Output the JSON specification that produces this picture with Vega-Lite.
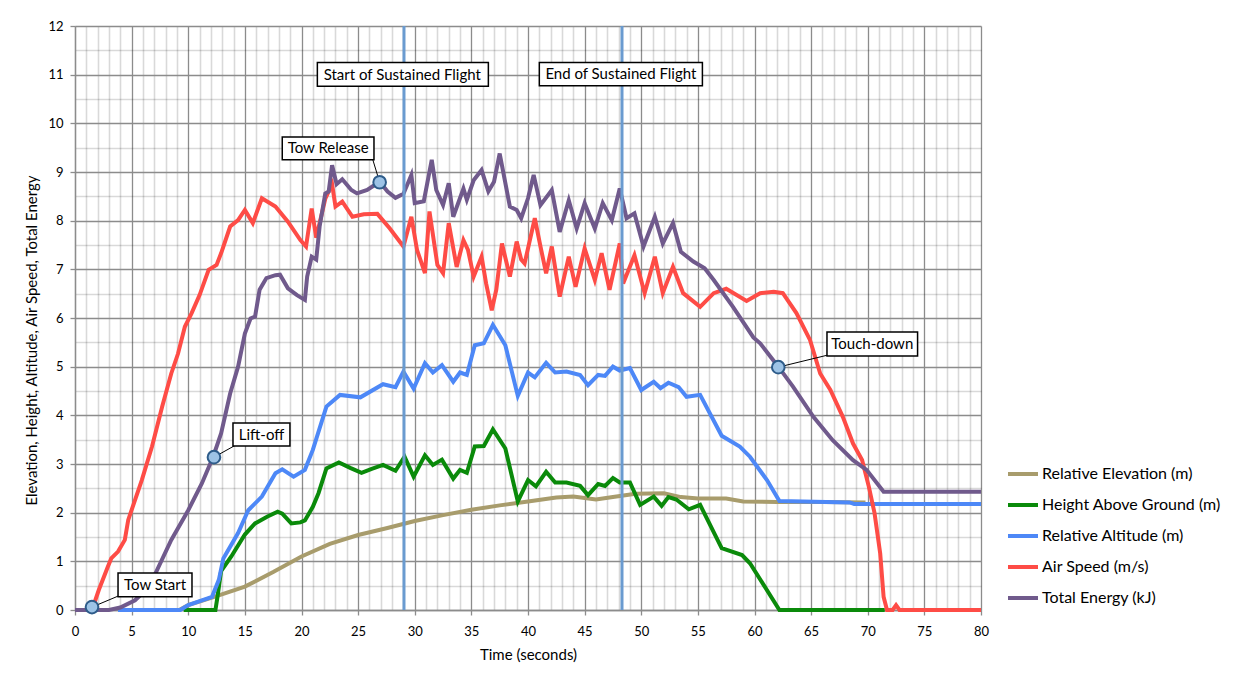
{
"$schema":"https://vega.github.io/schema/vega-lite/v6.json",
"width":906,"height":584,
"autosize":{"type":"none"},
"padding":{"left":75,"top":26,"right":263,"bottom":67},
"background":"white",
"config":{"font":"Lato","view":{"stroke":null},
 "legend":{"symbolType":"stroke","symbolSize":900,"symbolStrokeWidth":4,"labelFontSize":16,"labelColor":"#000","labelFont":"Lato","rowPadding":1,"labelOffset":2,"padding":0,"labelLimit":300}},
"datasets":{
"elev":[{"t":9.2,"v":0.0},{"t":10,"v":0.1},{"t":12.3,"v":0.27},{"t":15,"v":0.48},{"t":17.5,"v":0.78},{"t":20,"v":1.1},{"t":22.5,"v":1.36},{"t":25,"v":1.54},{"t":27.5,"v":1.68},{"t":30,"v":1.83},{"t":32.5,"v":1.95},{"t":35,"v":2.06},{"t":37.5,"v":2.15},{"t":40,"v":2.23},{"t":42.5,"v":2.31},{"t":44,"v":2.33},{"t":46,"v":2.27},{"t":47.5,"v":2.32},{"t":49.5,"v":2.39},{"t":52,"v":2.4},{"t":53.5,"v":2.32},{"t":55,"v":2.29},{"t":57.5,"v":2.29},{"t":59,"v":2.23},{"t":62,"v":2.22},{"t":66,"v":2.22},{"t":69.8,"v":2.21}],
"height":[{"t":9.6,"v":0},{"t":12.4,"v":0},{"t":12.6,"v":0.3},{"t":12.9,"v":0.8},{"t":13.8,"v":1.1},{"t":15,"v":1.55},{"t":15.9,"v":1.78},{"t":17.0,"v":1.92},{"t":17.9,"v":2.02},{"t":18.3,"v":1.98},{"t":19.1,"v":1.78},{"t":19.9,"v":1.8},{"t":20.3,"v":1.84},{"t":21.0,"v":2.12},{"t":21.5,"v":2.4},{"t":22.2,"v":2.91},{"t":23.3,"v":3.03},{"t":24.3,"v":2.92},{"t":25.3,"v":2.82},{"t":26.2,"v":2.9},{"t":27.2,"v":2.98},{"t":28.3,"v":2.86},{"t":29.1,"v":3.15},{"t":29.9,"v":2.74},{"t":30.9,"v":3.18},{"t":31.6,"v":2.98},{"t":32.4,"v":3.09},{"t":33.4,"v":2.7},{"t":34.0,"v":2.88},{"t":34.6,"v":2.82},{"t":35.3,"v":3.36},{"t":36.1,"v":3.37},{"t":36.9,"v":3.71},{"t":38.0,"v":3.32},{"t":39.1,"v":2.23},{"t":40.0,"v":2.67},{"t":40.7,"v":2.54},{"t":41.6,"v":2.84},{"t":42.4,"v":2.62},{"t":43.4,"v":2.62},{"t":44.6,"v":2.55},{"t":45.3,"v":2.36},{"t":46.2,"v":2.59},{"t":46.8,"v":2.55},{"t":47.5,"v":2.71},{"t":48.1,"v":2.62},{"t":49.0,"v":2.62},{"t":49.9,"v":2.16},{"t":51.1,"v":2.33},{"t":51.8,"v":2.14},{"t":52.4,"v":2.32},{"t":53.1,"v":2.27},{"t":54.2,"v":2.07},{"t":55.2,"v":2.16},{"t":57.1,"v":1.27},{"t":58.9,"v":1.13},{"t":59.6,"v":0.96},{"t":62.2,"v":0},{"t":71.5,"v":0}],
"alt":[{"t":3.8,"v":0},{"t":9.3,"v":0},{"t":10,"v":0.1},{"t":12.1,"v":0.27},{"t":12.7,"v":0.62},{"t":13.1,"v":1.06},{"t":14.4,"v":1.58},{"t":15.3,"v":2.05},{"t":16.5,"v":2.33},{"t":17.7,"v":2.81},{"t":18.3,"v":2.89},{"t":19.3,"v":2.74},{"t":20.3,"v":2.88},{"t":21.0,"v":3.29},{"t":22.2,"v":4.18},{"t":23.4,"v":4.42},{"t":25.2,"v":4.37},{"t":27.2,"v":4.64},{"t":28.3,"v":4.58},{"t":29.0,"v":4.9},{"t":29.9,"v":4.55},{"t":30.9,"v":5.07},{"t":31.6,"v":4.88},{"t":32.4,"v":5.03},{"t":33.4,"v":4.69},{"t":34.0,"v":4.88},{"t":34.6,"v":4.83},{"t":35.3,"v":5.44},{"t":36.1,"v":5.48},{"t":36.9,"v":5.86},{"t":38.0,"v":5.44},{"t":39.1,"v":4.4},{"t":40.0,"v":4.88},{"t":40.6,"v":4.78},{"t":41.6,"v":5.08},{"t":42.4,"v":4.88},{"t":43.4,"v":4.9},{"t":44.6,"v":4.83},{"t":45.3,"v":4.62},{"t":46.2,"v":4.83},{"t":46.8,"v":4.81},{"t":47.5,"v":5.0},{"t":48.1,"v":4.92},{"t":49.0,"v":4.97},{"t":50.0,"v":4.52},{"t":51.1,"v":4.69},{"t":51.7,"v":4.56},{"t":52.4,"v":4.67},{"t":53.3,"v":4.58},{"t":54.0,"v":4.38},{"t":55.2,"v":4.42},{"t":57.1,"v":3.58},{"t":58.7,"v":3.36},{"t":59.6,"v":3.15},{"t":61.1,"v":2.67},{"t":62.2,"v":2.24},{"t":68.4,"v":2.21},{"t":68.8,"v":2.18},{"t":80,"v":2.18}],
"speed":[{"t":1.5,"v":0},{"t":2.1,"v":0.41},{"t":2.9,"v":0.89},{"t":3.2,"v":1.06},{"t":3.8,"v":1.2},{"t":4.4,"v":1.44},{"t":4.7,"v":1.85},{"t":5.9,"v":2.67},{"t":6.8,"v":3.36},{"t":7.7,"v":4.18},{"t":8.5,"v":4.86},{"t":9.1,"v":5.27},{"t":9.7,"v":5.82},{"t":10.3,"v":6.1},{"t":11.0,"v":6.47},{"t":11.8,"v":6.99},{"t":12.5,"v":7.09},{"t":12.9,"v":7.33},{"t":13.7,"v":7.88},{"t":14.4,"v":8.01},{"t":15.0,"v":8.22},{"t":15.7,"v":7.95},{"t":16.5,"v":8.46},{"t":17.7,"v":8.29},{"t":18.8,"v":7.98},{"t":19.9,"v":7.6},{"t":20.4,"v":7.47},{"t":20.9,"v":8.25},{"t":21.3,"v":7.65},{"t":22.1,"v":8.45},{"t":22.7,"v":8.75},{"t":23.0,"v":8.29},{"t":23.6,"v":8.39},{"t":24.5,"v":8.08},{"t":25.5,"v":8.13},{"t":26.7,"v":8.14},{"t":27.8,"v":7.84},{"t":29.0,"v":7.47},{"t":29.7,"v":8.08},{"t":30.2,"v":7.4},{"t":30.9,"v":6.92},{"t":31.3,"v":8.19},{"t":32.0,"v":7.09},{"t":32.5,"v":6.92},{"t":33.0,"v":7.95},{"t":33.7,"v":7.05},{"t":34.3,"v":7.6},{"t":34.7,"v":7.4},{"t":35.2,"v":6.85},{"t":35.9,"v":7.26},{"t":36.3,"v":6.71},{"t":36.8,"v":6.16},{"t":37.2,"v":6.58},{"t":37.7,"v":7.53},{"t":38.4,"v":6.85},{"t":39.0,"v":7.57},{"t":39.4,"v":7.2},{"t":39.7,"v":7.12},{"t":40.6,"v":8.05},{"t":41.1,"v":7.47},{"t":41.6,"v":6.92},{"t":42.1,"v":7.47},{"t":42.8,"v":6.44},{"t":43.6,"v":7.26},{"t":44.2,"v":6.64},{"t":45.0,"v":7.43},{"t":45.9,"v":6.78},{"t":46.5,"v":7.33},{"t":47.2,"v":6.58},{"t":48.1,"v":7.53},{"t":48.4,"v":6.71},{"t":49.4,"v":7.29},{"t":50.3,"v":6.51},{"t":51.2,"v":7.26},{"t":51.9,"v":6.51},{"t":52.8,"v":7.05},{"t":53.7,"v":6.51},{"t":55.2,"v":6.23},{"t":56.4,"v":6.51},{"t":57.5,"v":6.6},{"t":59.3,"v":6.35},{"t":60.5,"v":6.51},{"t":61.7,"v":6.54},{"t":62.5,"v":6.51},{"t":63.7,"v":6.1},{"t":64.9,"v":5.55},{"t":65.8,"v":4.86},{"t":66.7,"v":4.52},{"t":67.8,"v":3.97},{"t":68.7,"v":3.42},{"t":69.5,"v":3.08},{"t":70.1,"v":2.53},{"t":70.6,"v":1.99},{"t":71.1,"v":1.16},{"t":71.4,"v":0.27},{"t":71.7,"v":0},{"t":72.2,"v":0},{"t":72.5,"v":0.1},{"t":72.8,"v":0},{"t":80,"v":0}],
"energy":[{"t":0,"v":0},{"t":3.0,"v":0},{"t":4.0,"v":0.05},{"t":5.3,"v":0.2},{"t":6.2,"v":0.4},{"t":7.1,"v":0.75},{"t":8.5,"v":1.44},{"t":10.0,"v":2.05},{"t":11.2,"v":2.6},{"t":12.2,"v":3.15},{"t":12.9,"v":3.63},{"t":13.7,"v":4.45},{"t":14.4,"v":5.0},{"t":15.0,"v":5.68},{"t":15.5,"v":5.99},{"t":15.9,"v":6.03},{"t":16.3,"v":6.58},{"t":16.9,"v":6.82},{"t":17.7,"v":6.88},{"t":18.1,"v":6.89},{"t":18.8,"v":6.61},{"t":19.6,"v":6.47},{"t":20.3,"v":6.37},{"t":20.5,"v":6.85},{"t":20.9,"v":7.26},{"t":21.3,"v":7.2},{"t":21.6,"v":7.88},{"t":22.1,"v":8.56},{"t":22.4,"v":8.6},{"t":22.7,"v":9.14},{"t":23.1,"v":8.75},{"t":23.6,"v":8.85},{"t":24.4,"v":8.63},{"t":24.9,"v":8.56},{"t":25.8,"v":8.63},{"t":26.9,"v":8.8},{"t":27.6,"v":8.6},{"t":28.3,"v":8.47},{"t":29.0,"v":8.55},{"t":29.7,"v":8.94},{"t":30.0,"v":8.36},{"t":30.8,"v":8.4},{"t":31.5,"v":9.25},{"t":31.9,"v":8.63},{"t":32.5,"v":8.32},{"t":33.0,"v":8.77},{"t":33.4,"v":8.08},{"t":34.3,"v":8.66},{"t":34.6,"v":8.43},{"t":35.2,"v":8.83},{"t":35.9,"v":9.04},{"t":36.5,"v":8.6},{"t":37.0,"v":8.8},{"t":37.5,"v":9.38},{"t":38.4,"v":8.29},{"t":39.0,"v":8.22},{"t":39.4,"v":8.05},{"t":40.0,"v":8.46},{"t":40.5,"v":8.94},{"t":41.1,"v":8.32},{"t":42.1,"v":8.63},{"t":42.8,"v":7.77},{"t":43.6,"v":8.42},{"t":44.3,"v":7.84},{"t":45.0,"v":8.36},{"t":45.9,"v":7.84},{"t":46.6,"v":8.36},{"t":47.4,"v":8.01},{"t":48.1,"v":8.66},{"t":48.7,"v":8.05},{"t":49.4,"v":8.15},{"t":50.2,"v":7.47},{"t":51.2,"v":8.08},{"t":51.9,"v":7.53},{"t":52.8,"v":7.95},{"t":53.5,"v":7.36},{"t":54.6,"v":7.16},{"t":55.6,"v":7.02},{"t":56.4,"v":6.78},{"t":58.1,"v":6.23},{"t":59.9,"v":5.6},{"t":60.5,"v":5.48},{"t":62.1,"v":5.0},{"t":63.4,"v":4.59},{"t":65.2,"v":3.97},{"t":66.9,"v":3.49},{"t":68.7,"v":3.08},{"t":69.9,"v":2.88},{"t":71.4,"v":2.43},{"t":80,"v":2.43}],
"vlines":[{"t":29.05,"v":0,"v2":12},{"t":48.3,"v":0,"v2":12}],
"boxes":[{"label":"Start of Sustained Flight","t":28.9,"v":11.0,"t1":21.4,"t2":36.5,"v1":10.76,"v2":11.25},{"label":"End of Sustained Flight","t":48.2,"v":11.01,"t1":41.0,"t2":55.4,"v1":10.77,"v2":11.25},{"label":"Tow Release","t":22.35,"v":9.485,"t1":18.3,"t2":26.4,"v1":9.25,"v2":9.72},{"label":"Lift-off","t":16.47,"v":3.6,"t1":13.95,"t2":18.98,"v1":3.37,"v2":3.84},{"label":"Tow Start","t":7.07,"v":0.515,"t1":3.8,"t2":10.33,"v1":0.27,"v2":0.76},{"label":"Touch-down","t":70.4,"v":5.465,"t1":66.4,"t2":74.4,"v1":5.22,"v2":5.71}],
"marks":[{"label":"Tow Start","t":1.5,"v":0.06,"tc":3.85,"vc":0.29},{"label":"Lift-off","t":12.27,"v":3.14,"tc":14.2,"vc":3.39},{"label":"Tow Release","t":26.9,"v":8.79,"tc":26.3,"vc":9.25},{"label":"Touch-down","t":62.1,"v":4.99,"tc":66.5,"vc":5.24}]
},
"encoding":{
 "x":{"field":"t","type":"quantitative","scale":{"domain":[0,80],"nice":false,"zero":false},
  "axis":{"title":"Time (seconds)","values":[0,1,2,3,4,5,6,7,8,9,10,11,12,13,14,15,16,17,18,19,20,21,22,23,24,25,26,27,28,29,30,31,32,33,34,35,36,37,38,39,40,41,42,43,44,45,46,47,48,49,50,51,52,53,54,55,56,57,58,59,60,61,62,63,64,65,66,67,68,69,70,71,72,73,74,75,76,77,78,79,80],
   "grid":true,
   "gridColor":{"condition":{"test":"datum.value % 5 === 0","value":"#8c8c8c"},"value":"#000000"},
   "gridOpacity":{"condition":{"test":"datum.value % 5 === 0","value":1},"value":0.15},
   "gridWidth":{"condition":{"test":"datum.value % 5 === 0","value":1.3},"value":1.6},
   "tickColor":"#8c8c8c","tickSize":5,"tickWidth":1.3,
   "tickOpacity":{"condition":{"test":"datum.value % 5 === 0","value":1},"value":0},
   "labelExpr":"datum.value % 5 === 0 ? format(datum.value, 'd') : ''",
   "labelFontSize":13,"labelColor":"#000","labelPadding":10,"labelFlush":false,"labelOverlap":false,"labelFont":"Lato",
   "domainColor":"#8c8c8c","domainWidth":1.3,
   "titleFontSize":15,"titleFontWeight":"normal","titleColor":"#000","titlePadding":9,"titleFont":"Lato"}},
 "y":{"field":"v","type":"quantitative","scale":{"domain":[0,12],"nice":false,"zero":false},
  "axis":{"title":"Elevation, Height, Altitude, Air Speed, Total Energy","values":[0,0.5,1,1.5,2,2.5,3,3.5,4,4.5,5,5.5,6,6.5,7,7.5,8,8.5,9,9.5,10,10.5,11,11.5,12],
   "grid":true,
   "gridColor":{"condition":{"test":"datum.value % 1 === 0","value":"#8c8c8c"},"value":"#000000"},
   "gridOpacity":{"condition":{"test":"datum.value % 1 === 0","value":1},"value":0.15},
   "gridWidth":{"condition":{"test":"datum.value % 1 === 0","value":1.3},"value":1.6},
   "tickColor":"#8c8c8c","tickSize":5,"tickWidth":1.3,
   "tickOpacity":{"condition":{"test":"datum.value % 1 === 0","value":1},"value":0},
   "labelExpr":"datum.value % 1 === 0 ? format(datum.value, 'd') : ''",
   "labelFontSize":13,"labelColor":"#000","labelPadding":7,"labelFlush":false,"labelOverlap":false,"labelFont":"Lato",
   "domainColor":"#8c8c8c","domainWidth":1.3,
   "titleFontSize":15,"titleFontWeight":"normal","titleColor":"#000","titlePadding":8,"titleFont":"Lato","titleY":314}}
},
"layer":[
 {"data":{"name":"elev"},"mark":{"type":"line","strokeWidth":4},
  "encoding":{"color":{"datum":"Relative Elevation (m)","scale":{"domain":["Relative Elevation (m)","Height Above Ground (m)","Relative Altitude (m)","Air Speed (m/s)","Total Energy (kJ)"],"range":["#a89c6c","#0a8a0a","#4d88f7","#fe4c46","#705a8c"]},"legend":{"orient":"none","legendX":931,"legendY":431,"title":null,"rowPadding":6}}}},
 {"data":{"name":"height"},"mark":{"type":"line","strokeWidth":4},
  "encoding":{"color":{"datum":"Height Above Ground (m)","scale":{"domain":["Relative Elevation (m)","Height Above Ground (m)","Relative Altitude (m)","Air Speed (m/s)","Total Energy (kJ)"],"range":["#a89c6c","#0a8a0a","#4d88f7","#fe4c46","#705a8c"]},"legend":{"orient":"none","legendX":931,"legendY":431,"title":null,"rowPadding":6}}}},
 {"data":{"name":"alt"},"mark":{"type":"line","strokeWidth":4},
  "encoding":{"color":{"datum":"Relative Altitude (m)","scale":{"domain":["Relative Elevation (m)","Height Above Ground (m)","Relative Altitude (m)","Air Speed (m/s)","Total Energy (kJ)"],"range":["#a89c6c","#0a8a0a","#4d88f7","#fe4c46","#705a8c"]},"legend":{"orient":"none","legendX":931,"legendY":431,"title":null,"rowPadding":6}}}},
 {"data":{"name":"speed"},"mark":{"type":"line","strokeWidth":4},
  "encoding":{"color":{"datum":"Air Speed (m/s)","scale":{"domain":["Relative Elevation (m)","Height Above Ground (m)","Relative Altitude (m)","Air Speed (m/s)","Total Energy (kJ)"],"range":["#a89c6c","#0a8a0a","#4d88f7","#fe4c46","#705a8c"]},"legend":{"orient":"none","legendX":931,"legendY":431,"title":null,"rowPadding":6}}}},
 {"data":{"name":"energy"},"mark":{"type":"line","strokeWidth":4},
  "encoding":{"color":{"datum":"Total Energy (kJ)","scale":{"domain":["Relative Elevation (m)","Height Above Ground (m)","Relative Altitude (m)","Air Speed (m/s)","Total Energy (kJ)"],"range":["#a89c6c","#0a8a0a","#4d88f7","#fe4c46","#705a8c"]},"legend":{"orient":"none","legendX":931,"legendY":431,"title":null,"rowPadding":6}}}},
 {"data":{"name":"vlines"},"mark":{"type":"rule","color":"#6a9bd0","strokeWidth":3},
  "encoding":{"y2":{"field":"v2"}}},
 {"data":{"name":"marks"},"mark":{"type":"rule","color":"#000","strokeWidth":1},
  "encoding":{"x2":{"field":"tc"},"y2":{"field":"vc"}}},
 {"data":{"name":"boxes"},"mark":{"type":"rect","fill":"white","stroke":"#000","strokeWidth":1.5},
  "encoding":{"x":{"field":"t1","type":"quantitative"},"x2":{"field":"t2"},"y":{"field":"v1","type":"quantitative"},"y2":{"field":"v2"}}},
 {"data":{"name":"boxes"},"mark":{"type":"text","fontSize":15,"font":"Lato","color":"#000","align":"center","baseline":"middle"},
  "encoding":{"text":{"field":"label"}}},
 {"data":{"name":"marks"},"mark":{"type":"point","filled":true,"fill":"#9dc3e6","stroke":"#2e5c8a","strokeWidth":2,"size":160,"opacity":1},
  "encoding":{}}
]
}
